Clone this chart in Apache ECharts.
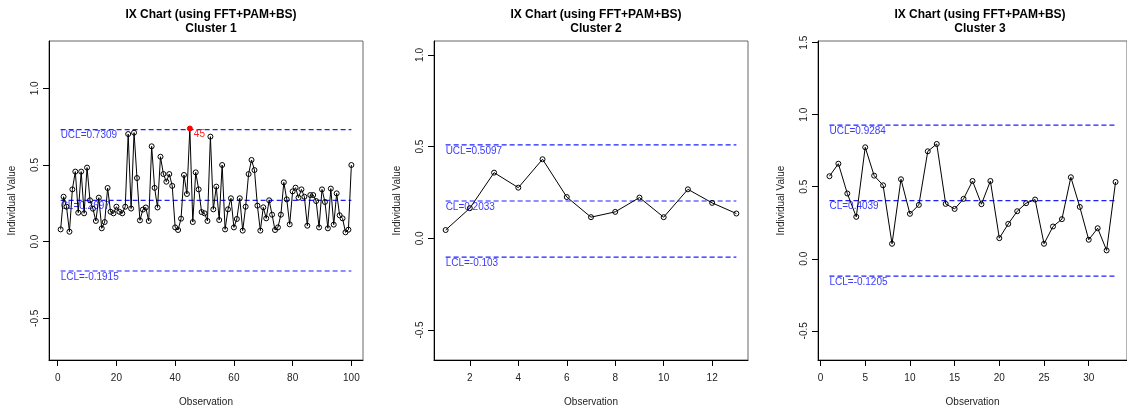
<!DOCTYPE html>
<html>
<head>
<meta charset="utf-8">
<script src="https://cdn.jsdelivr.net/npm/echarts@6/dist/echarts.min.js"></script>
<style>
  html, body { margin: 0; padding: 0; background: #fff; }
  #main { width: 1127px; height: 412px; }
</style>
</head>
<body>
<div id="main"></div>
<script>
// individual values per cluster (observation = index + 1)
const cluster1 = [
  0.080, 0.293, 0.228, 0.065, 0.341, 0.457, 0.189, 0.457, 0.185, 0.483,
  0.270, 0.215, 0.135, 0.287, 0.087, 0.128, 0.350, 0.195, 0.185, 0.228,
  0.195, 0.185, 0.228, 0.702, 0.216, 0.711, 0.415, 0.139, 0.209, 0.223,
  0.135, 0.622, 0.351, 0.223, 0.554, 0.441, 0.391, 0.441, 0.364, 0.093,
  0.076, 0.150, 0.435, 0.311, 0.738, 0.128, 0.452, 0.341, 0.193, 0.185,
  0.135, 0.685, 0.211, 0.359, 0.141, 0.500, 0.080, 0.211, 0.283, 0.093,
  0.148, 0.283, 0.072, 0.228, 0.441, 0.533, 0.467, 0.235, 0.072, 0.224,
  0.152, 0.270, 0.176, 0.076, 0.093, 0.176, 0.387, 0.276, 0.113, 0.328,
  0.352, 0.287, 0.341, 0.293, 0.104, 0.304, 0.304, 0.265, 0.093, 0.341,
  0.259, 0.087, 0.346, 0.111, 0.315, 0.172, 0.152, 0.061, 0.078, 0.500
]
const cluster2 = [0.045, 0.164, 0.358, 0.276, 0.431, 0.225, 0.115, 0.144, 0.222, 0.115, 0.267, 0.193, 0.135]
const cluster3 = [
  0.573, 0.660, 0.453, 0.291, 0.774, 0.577, 0.510, 0.104, 0.552, 0.312,
  0.374, 0.746, 0.797, 0.381, 0.346, 0.416, 0.540, 0.379, 0.540, 0.143,
  0.242, 0.330, 0.386, 0.411, 0.104, 0.224, 0.275, 0.566, 0.360, 0.132,
  0.212, 0.058, 0.533
]

// control limits: UCL, CL, LCL
const limitNames = ['UCL', 'CL', 'LCL']
const limits1 = [0.7309, 0.2697, -0.1915]
const limits2 = [0.5097, 0.2033, -0.103]
const limits3 = [0.9284, 0.4039, -0.1205]

// out of control points (observation numbers)
const outOfControl1 = [45]
const outOfControl2 = []
const outOfControl3 = []

// tick labels
const xTicks1 = [0, 20, 40, 60, 80, 100]
const xTicks2 = [2, 4, 6, 8, 10, 12]
const xTicks3 = [0, 5, 10, 15, 20, 25, 30]
const yTicks1 = [-0.5, 0, 0.5, 1]
const yTicks2 = [-0.5, 0, 0.5, 1]
const yTicks3 = [-0.5, 0, 0.5, 1, 1.5]

const panels = [
  { name: 'Cluster 1', values: cluster1, limits: limits1, ooc: outOfControl1, xTicks: xTicks1, yTicks: yTicks1,
    left: 49, xMin: -2.96, xMax: 103.96, yMin: -0.772, yMax: 1.309 },
  { name: 'Cluster 2', values: cluster2, limits: limits2, ooc: outOfControl2, xTicks: xTicks2, yTicks: yTicks2,
    left: 434, xMin: 0.52, xMax: 13.48, yMin: -0.664, yMax: 1.076 },
  { name: 'Cluster 3', values: cluster3, limits: limits3, ooc: outOfControl3, xTicks: xTicks3, yTicks: yTicks3,
    left: 818, xMin: -0.28, xMax: 34.28, yMin: -0.703, yMax: 1.512 }
]

const FONT = 'Liberation Sans, Arial, sans-serif'
const PLOT_W = 314
const TEXT = '#222'
const BLUE_LINE = '#1f1fff'
const BLUE_TEXT = '#3a3aff'

const grids = []
const xAxes = []
const yAxes = []
const titles = []
const series = []

panels.forEach(function (p, k) {
  grids.push({
    left: p.left, top: 41, width: PLOT_W, height: 319,
    show: true, borderColor: '#666', borderWidth: 1, backgroundColor: 'transparent'
  })
  titles.push({
    text: 'IX Chart (using FFT+PAM+BS)\n' + p.name,
    left: p.left + PLOT_W / 2, top: 3, textAlign: 'center',
    textStyle: { fontFamily: FONT, fontSize: 12, fontWeight: 'bold', color: '#000', lineHeight: 14 }
  })
  xAxes.push({
    type: 'value', gridIndex: k, min: p.xMin, max: p.xMax,
    splitLine: { show: false },
    axisLine: { show: true, onZero: false, lineStyle: { color: '#000', width: 1 } },
    axisTick: { show: true, length: 6, customValues: p.xTicks, lineStyle: { color: '#000' } },
    axisLabel: { customValues: p.xTicks, margin: 13, fontSize: 10, fontFamily: FONT, color: TEXT },
    name: 'Observation', nameLocation: 'middle', nameGap: 37,
    nameTextStyle: { fontSize: 10, fontFamily: FONT, color: TEXT }
  })
  yAxes.push({
    type: 'value', gridIndex: k, min: p.yMin, max: p.yMax,
    splitLine: { show: false },
    axisLine: { show: true, onZero: false, lineStyle: { color: '#000', width: 1 } },
    axisTick: { show: true, length: 6, customValues: p.yTicks, lineStyle: { color: '#000' } },
    axisLabel: {
      customValues: p.yTicks, rotate: 90, margin: 9, fontSize: 10, fontFamily: FONT, color: TEXT,
      formatter: function (v) { return Number(v).toFixed(1) }
    },
    name: 'Individual Value', nameLocation: 'middle', nameGap: 32,
    nameTextStyle: { fontSize: 10, fontFamily: FONT, color: TEXT }
  })

  const n = p.values.length
  // control limit lines with their labels under the left end
  p.limits.forEach(function (v, j) {
    series.push({
      type: 'line', xAxisIndex: k, yAxisIndex: k,
      symbol: 'circle', symbolSize: 0, silent: true,
      lineStyle: { color: BLUE_LINE, width: 1.2, type: [5, 3] },
      data: [
        { value: [1, v], label: { show: true, position: [0, 1], formatter: limitNames[j] + '=' + v,
          color: BLUE_TEXT, fontSize: 10, fontFamily: FONT } },
        [n, v]
      ],
      z: 2
    })
  })

  // individual values
  const points = p.values.map(function (v, i) {
    const obs = i + 1
    if (p.ooc.indexOf(obs) >= 0) {
      return {
        value: [obs, v],
        itemStyle: { color: '#ff0000', borderColor: '#ff0000' },
        label: { show: true, position: 'right', distance: 1, offset: [0, 6], formatter: String(obs),
          color: '#ff2020', fontSize: 10, fontFamily: FONT }
      }
    }
    return [obs, v]
  })
  series.push({
    type: 'line', xAxisIndex: k, yAxisIndex: k,
    symbol: 'circle', symbolSize: 5, showAllSymbol: true,
    lineStyle: { color: '#000', width: 1 },
    itemStyle: { color: 'rgba(0,0,0,0)', borderColor: '#000', borderWidth: 1 },
    data: points,
    z: 3
  })
})

const chart = echarts.init(document.getElementById('main'), null, { renderer: 'canvas' })
chart.setOption({
  animation: false,
  backgroundColor: '#fff',
  title: titles,
  grid: grids,
  xAxis: xAxes,
  yAxis: yAxes,
  series: series
})
</script>
</body>
</html>
